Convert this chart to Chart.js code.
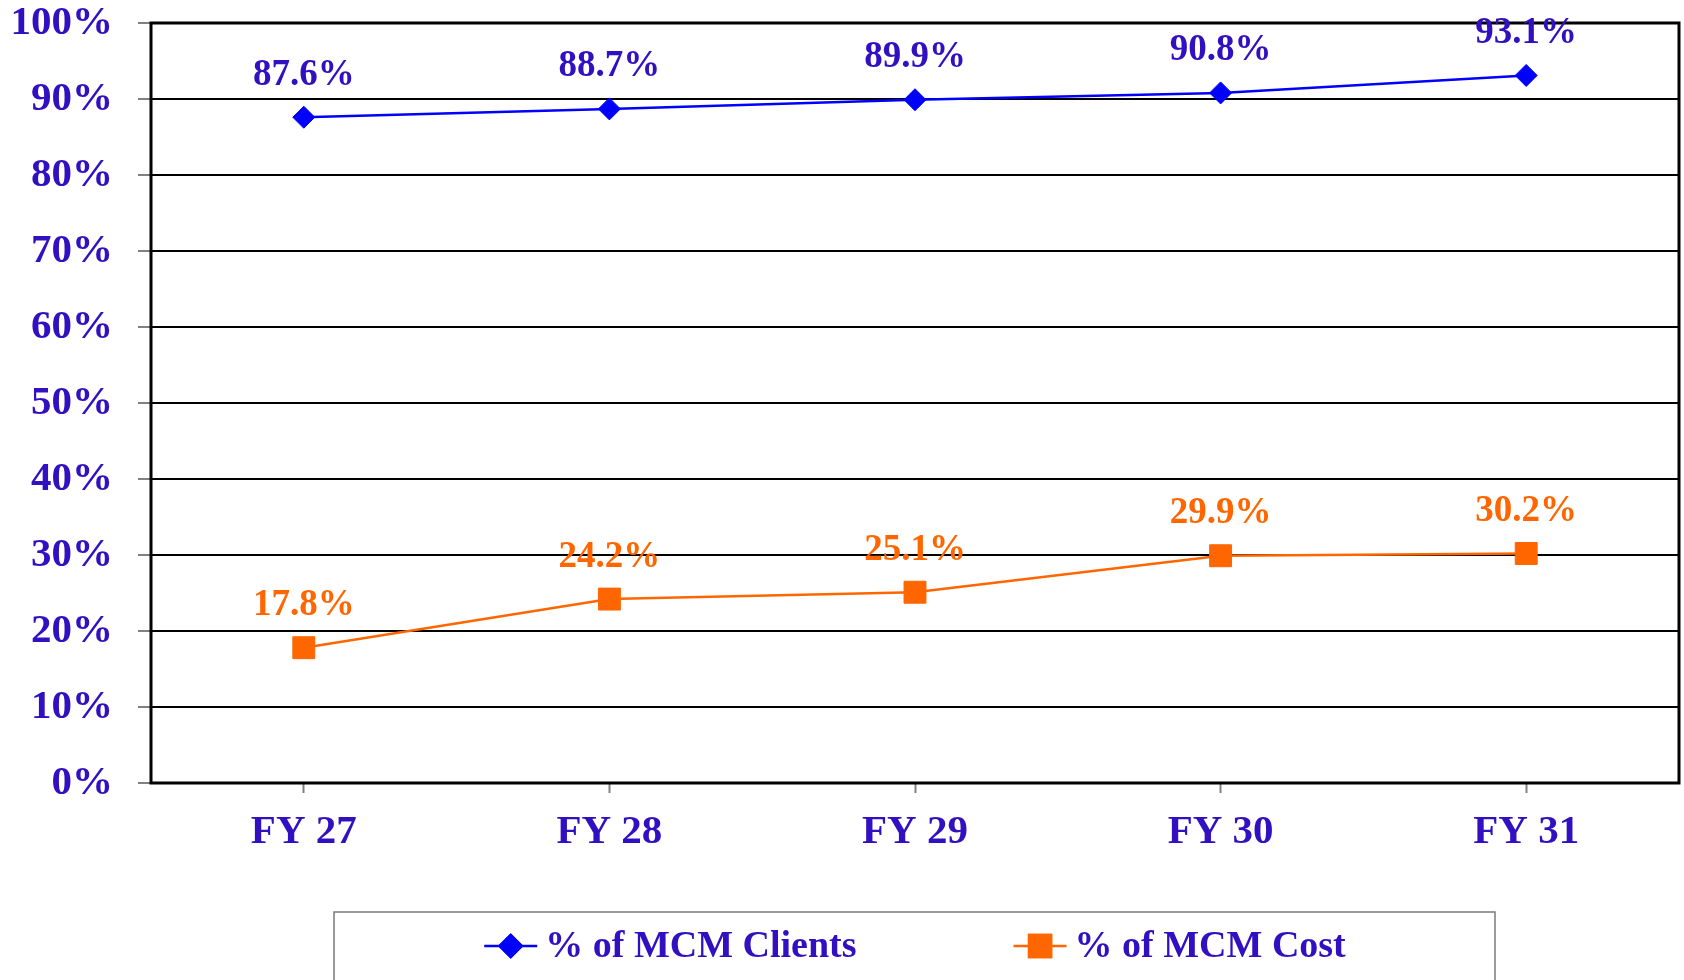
<!DOCTYPE html>
<html>
<head>
<meta charset="utf-8">
<script src="https://cdn.jsdelivr.net/npm/chart.js@4.4.1/dist/chart.umd.min.js"></script>
<style>
html,body{margin:0;padding:0;background:#fff;}
canvas{display:block;}
</style>
</head>
<body>
<canvas id="c" width="1684" height="980"></canvas>
<script>
const categories = ['FY 27', 'FY 28', 'FY 29', 'FY 30', 'FY 31'];
const clientsPct = [87.6, 88.7, 89.9, 90.8, 93.1];
const costPct = [17.8, 24.2, 25.1, 29.9, 30.2];
const seriesNames = ['% of MCM Clients', '% of MCM Cost'];
const yTicks = [0, 10, 20, 30, 40, 50, 60, 70, 80, 90, 100];

const TEXT = '#3010C0';
const BLUE = '#0000FF';
const ORANGE = '#FF6600';
const FONT = '"Liberation Serif", "Times New Roman", serif';

const frame = {
  id: 'frame',
  beforeDatasetsDraw(chart) {
    const a = chart.chartArea, ctx = chart.ctx;
    ctx.save();
    ctx.strokeStyle = '#000';
    ctx.lineWidth = 3;
    ctx.strokeRect(a.left, a.top, a.right - a.left, a.bottom - a.top);
    ctx.restore();
  }
};

const dataLabels = {
  id: 'dataLabels',
  afterDatasetsDraw(chart) {
    const ctx = chart.ctx;
    ctx.save();
    ctx.font = 'bold 37px ' + FONT;
    ctx.textAlign = 'center';
    ctx.textBaseline = 'middle';
    chart.data.datasets.forEach((ds, i) => {
      const meta = chart.getDatasetMeta(i);
      ctx.fillStyle = ds.labelColor;
      meta.data.forEach((pt, j) => {
        ctx.fillText(ds.data[j].toFixed(1) + '%', pt.x, pt.y - 42);
      });
    });
    ctx.restore();
  }
};

const customLegend = {
  id: 'customLegend',
  afterDraw(chart) {
    const ctx = chart.ctx, a = chart.chartArea;
    ctx.save();
    ctx.strokeStyle = '#7a7a7a';
    ctx.lineWidth = 1.5;
    ctx.strokeRect(334, 912, 1161, 100);
    ctx.font = 'bold 38px ' + FONT;
    const lineW = 53, gap = 8, itemGap = 157;
    const widths = chart.data.datasets.map(ds => lineW + gap + ctx.measureText(ds.label).width);
    const total = widths.reduce((s, w) => s + w, 0) + itemGap * (widths.length - 1);
    let x = (a.left + a.right) / 2 - total / 2;
    const y = 946;
    chart.data.datasets.forEach((ds, i) => {
      ctx.strokeStyle = ds.borderColor;
      ctx.lineWidth = 2.5;
      ctx.beginPath();
      ctx.moveTo(x, y);
      ctx.lineTo(x + lineW, y);
      ctx.stroke();
      Chart.helpers.drawPoint(ctx, {
        pointStyle: ds.pointStyle,
        radius: ds.pointRadius,
        borderWidth: 1,
        rotation: 0
      }, x + lineW / 2, y);
      ctx.fillStyle = ds.pointBackgroundColor;
      ctx.strokeStyle = ds.pointBorderColor;
      ctx.fill();
      ctx.stroke();
      ctx.fillStyle = TEXT;
      ctx.textAlign = 'left';
      ctx.textBaseline = 'middle';
      ctx.fillText(ds.label, x + lineW + gap, y + 1);
      x += widths[i] + itemGap;
    });
    ctx.restore();
  }
};

new Chart(document.getElementById('c'), {
  type: 'line',
  data: {
    labels: categories,
    datasets: [
      {
        label: seriesNames[0],
        data: clientsPct,
        borderColor: BLUE,
        backgroundColor: BLUE,
        borderWidth: 2.5,
        pointStyle: 'rectRot',
        pointRadius: 11,
        pointBackgroundColor: BLUE,
        pointBorderColor: BLUE,
        pointBorderWidth: 1,
        labelColor: TEXT,
        tension: 0
      },
      {
        label: seriesNames[1],
        data: costPct,
        borderColor: ORANGE,
        backgroundColor: ORANGE,
        borderWidth: 2.5,
        pointStyle: 'rect',
        pointRadius: 15.5,
        pointBackgroundColor: ORANGE,
        pointBorderColor: ORANGE,
        pointBorderWidth: 1,
        labelColor: ORANGE,
        tension: 0
      }
    ]
  },
  options: {
    responsive: false,
    animation: false,
    layout: { autoPadding: false, padding: { top: 23, right: 5, left: 0, bottom: 0 } },
    plugins: {
      legend: { display: false },
      tooltip: { enabled: false }
    },
    scales: {
      x: {
        offset: true,
        grid: {
          display: true,
          drawOnChartArea: false,
          drawTicks: true,
          tickLength: 10,
          tickColor: '#808080',
          tickWidth: 2
        },
        border: { display: false },
        ticks: {
          color: TEXT,
          font: { family: FONT, size: 41, weight: 'bold' },
          padding: 15,
          maxRotation: 0
        },
        afterFit(scale) {
          scale.height = 197;
          scale.paddingLeft = 0;
          scale.paddingRight = 0;
        }
      },
      y: {
        min: 0,
        max: 100,
        afterBuildTicks(scale) { scale.ticks = yTicks.map(v => ({ value: v })); },
        grid: {
          color: '#000',
          lineWidth: 2,
          drawTicks: true,
          tickLength: 13,
          tickColor: '#808080',
          tickWidth: 2
        },
        border: { display: false },
        ticks: {
          color: TEXT,
          font: { family: FONT, size: 41, weight: 'bold' },
          padding: 25,
          callback: v => v + '%'
        },
        afterFit(scale) {
          scale.width = 151;
          scale.paddingTop = 0;
          scale.paddingBottom = 0;
        }
      }
    }
  },
  plugins: [frame, dataLabels, customLegend]
});
</script>
</body>
</html>
